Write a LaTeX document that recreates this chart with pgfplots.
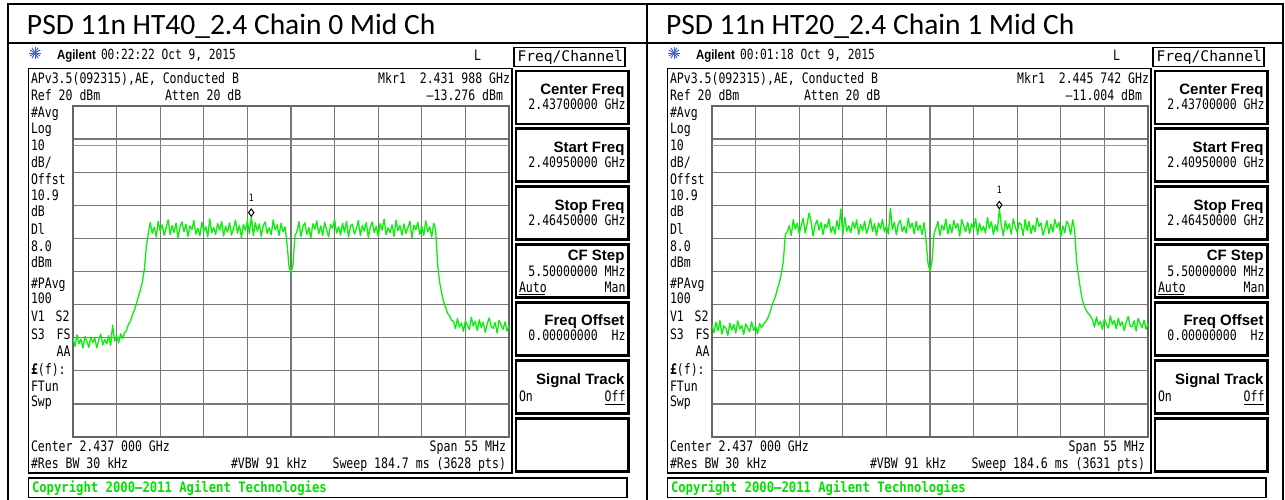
\documentclass[border=0pt]{standalone}
\usepackage{pgfplots}
\pgfplotsset{compat=1.18}
\usepackage{pgfplotstable}
\usepackage{fontspec}
\setmainfont{Carlito}
\newfontfamily\anaF[FakeStretch=0.8]{DejaVu Sans Mono}
\newfontfamily\anaW{DejaVu Sans Mono}
\newfontfamily\cpF[FakeStretch=0.85]{DejaVu Sans Mono}
\newfontfamily\keyF{Liberation Sans}
\newfontfamily\agF[FakeStretch=0.85]{Liberation Sans}
\newcommand\ana{\anaF\fontsize{14.4}{16}\selectfont}
\newcommand\hdr{\anaF\fontsize{14}{16}\selectfont}
\newcommand\kt{\keyF\bfseries\fontsize{15}{17}\selectfont}
\definecolor{trace}{RGB}{10,240,10}
\definecolor{dline}{RGB}{40,225,40}
\definecolor{gridc}{RGB}{120,120,120}
\definecolor{cpg}{RGB}{0,225,0}
\definecolor{logo}{RGB}{60,90,220}

\pgfplotstableread[row sep=\\]{
x y\\
2409.50 -50.2\\ 2409.75 -52.6\\ 2410.00 -49.1\\ 2410.25 -51.8\\ 2410.50 -50.4\\ 2410.75 -53.1\\
2411.00 -49.6\\ 2411.25 -51.2\\ 2411.50 -52.9\\ 2411.75 -49.8\\ 2412.00 -51.5\\ 2412.25 -50.1\\
2412.50 -53.0\\ 2412.75 -50.7\\ 2413.00 -48.9\\ 2413.25 -52.2\\ 2413.50 -50.5\\ 2413.75 -51.9\\
2414.00 -49.4\\ 2414.25 -52.4\\ 2414.50 -46.2\\ 2414.75 -51.0\\ 2415.00 -49.3\\ 2415.25 -51.6\\
2415.50 -48.8\\ 2415.75 -50.3\\ 2416.00 -48.6\\
2416.25 -47.8\\ 2416.50 -45.9\\ 2416.75 -45.0\\ 2417.00 -43.1\\ 2417.25 -41.6\\ 2417.50 -39.8\\
2417.75 -37.5\\ 2418.00 -35.6\\ 2418.25 -33.1\\ 2418.50 -29.4\\ 2418.75 -22.6\\ 2419.00 -18.4\\
2419.25 -15.2\\ 2419.50 -18.5\\ 2419.75 -16.6\\ 2420.00 -19.6\\ 2420.25 -14.8\\ 2420.50 -17.7\\
2420.75 -15.9\\ 2421.00 -19.1\\ 2421.25 -16.8\\ 2421.50 -14.4\\ 2421.75 -18.9\\ 2422.00 -16.1\\
2422.25 -18.2\\ 2422.50 -15.4\\ 2422.75 -19.8\\ 2423.00 -16.5\\ 2423.25 -15.0\\ 2423.50 -18.0\\
2423.75 -15.7\\ 2424.00 -19.4\\ 2424.25 -16.2\\ 2424.50 -17.3\\ 2424.75 -14.6\\ 2425.00 -18.7\\
2425.25 -16.9\\ 2425.50 -19.2\\ 2425.75 -15.1\\ 2426.00 -17.9\\ 2426.25 -16.4\\ 2426.50 -19.5\\
2426.75 -14.1\\ 2427.00 -18.3\\ 2427.25 -16.7\\ 2427.50 -18.8\\ 2427.75 -15.5\\ 2428.00 -17.5\\
2428.25 -14.9\\ 2428.50 -19.3\\ 2428.75 -16.3\\ 2429.00 -18.1\\ 2429.25 -15.3\\ 2429.50 -19.0\\
2429.75 -17.0\\ 2430.00 -14.5\\ 2430.25 -18.4\\ 2430.50 -16.0\\ 2430.75 -19.7\\ 2431.00 -15.8\\
2431.25 -17.6\\ 2431.50 -14.7\\ 2431.75 -18.6\\ 2432.00 -13.3\\ 2432.25 -19.2\\ 2432.50 -15.2\\
2432.75 -17.8\\ 2433.00 -15.6\\ 2433.25 -19.4\\ 2433.50 -16.1\\ 2433.75 -15.0\\ 2434.00 -18.5\\
2434.25 -16.8\\ 2434.50 -18.9\\ 2434.75 -14.4\\ 2435.00 -17.4\\ 2435.25 -15.9\\ 2435.50 -19.1\\
2435.75 -15.4\\ 2436.00 -18.0\\ 2436.25 -16.5\\
2436.50 -21.5\\ 2436.75 -28.6\\ 2437.00 -30.4\\ 2437.25 -27.8\\ 2437.50 -19.2\\
2437.75 -17.9\\ 2438.00 -14.9\\ 2438.25 -19.4\\ 2438.50 -16.4\\ 2438.75 -15.3\\ 2439.00 -18.8\\
2439.25 -16.7\\ 2439.50 -19.9\\ 2439.75 -15.6\\ 2440.00 -17.2\\ 2440.25 -14.7\\ 2440.50 -18.6\\
2440.75 -16.2\\ 2441.00 -19.1\\ 2441.25 -15.1\\ 2441.50 -17.6\\ 2441.75 -19.5\\ 2442.00 -15.8\\
2442.25 -16.9\\ 2442.50 -14.3\\ 2442.75 -18.4\\ 2443.00 -16.5\\ 2443.25 -19.0\\ 2443.50 -15.4\\
2443.75 -18.1\\ 2444.00 -14.8\\ 2444.25 -19.6\\ 2444.50 -16.3\\ 2444.75 -15.7\\ 2445.00 -18.7\\
2445.25 -17.0\\ 2445.50 -14.6\\ 2445.75 -19.2\\ 2446.00 -16.1\\ 2446.25 -17.8\\ 2446.50 -15.2\\
2446.75 -19.7\\ 2447.00 -16.6\\ 2447.25 -15.0\\ 2447.50 -18.3\\ 2447.75 -16.4\\ 2448.00 -19.3\\
2448.25 -15.5\\ 2448.50 -17.5\\ 2448.75 -14.2\\ 2449.00 -18.9\\ 2449.25 -16.8\\ 2449.50 -18.2\\
2449.75 -15.9\\ 2450.00 -19.4\\ 2450.25 -14.5\\ 2450.50 -17.7\\ 2450.75 -16.1\\ 2451.00 -19.0\\
2451.25 -15.6\\ 2451.50 -18.5\\ 2451.75 -16.7\\ 2452.00 -14.8\\ 2452.25 -19.8\\ 2452.50 -16.0\\
2452.75 -17.4\\ 2453.00 -15.1\\ 2453.25 -18.8\\ 2453.50 -16.3\\ 2453.75 -19.1\\ 2454.00 -14.7\\
2454.25 -18.0\\ 2454.50 -16.5\\ 2454.75 -19.6\\ 2455.00 -15.4\\ 2455.25 -17.3\\
2455.50 -28.0\\ 2455.75 -33.2\\ 2456.00 -36.4\\ 2456.25 -39.1\\ 2456.50 -40.8\\ 2456.75 -42.6\\
2457.00 -43.4\\ 2457.25 -44.7\\
2457.50 -45.1\\ 2457.75 -47.3\\ 2458.00 -44.2\\ 2458.25 -46.8\\ 2458.50 -45.5\\ 2458.75 -48.1\\
2459.00 -44.9\\ 2459.25 -46.2\\ 2459.50 -47.6\\ 2459.75 -43.8\\ 2460.00 -46.5\\ 2460.25 -45.0\\
2460.50 -47.9\\ 2460.75 -44.6\\ 2461.00 -46.9\\ 2461.25 -45.3\\ 2461.50 -48.4\\ 2461.75 -45.8\\
2462.00 -44.0\\ 2462.25 -46.7\\ 2462.50 -47.2\\ 2462.75 -45.4\\ 2463.00 -48.6\\ 2463.25 -44.7\\
2463.50 -46.1\\ 2463.75 -47.5\\ 2464.00 -45.2\\ 2464.25 -48.0\\ 2464.50 -46.4\\
}\trL

\pgfplotstableread[row sep=\\]{
x y\\
2409.50 -46.1\\ 2409.75 -48.5\\ 2410.00 -45.3\\ 2410.25 -47.9\\ 2410.50 -44.8\\ 2410.75 -48.9\\
2411.00 -46.4\\ 2411.25 -47.2\\ 2411.50 -49.3\\ 2411.75 -45.6\\ 2412.00 -47.7\\ 2412.25 -46.0\\
2412.50 -48.6\\ 2412.75 -44.9\\ 2413.00 -47.4\\ 2413.25 -46.3\\ 2413.50 -49.0\\ 2413.75 -45.8\\
2414.00 -47.1\\ 2414.25 -48.2\\ 2414.50 -45.2\\ 2414.75 -47.8\\ 2415.00 -46.5\\ 2415.25 -48.8\\
2415.50 -45.7\\ 2415.75 -47.0\\ 2416.00 -45.9\\
2416.25 -45.2\\ 2416.50 -44.3\\ 2416.75 -42.8\\ 2417.00 -40.9\\ 2417.25 -39.0\\ 2417.50 -37.6\\
2417.75 -35.2\\ 2418.00 -33.4\\ 2418.25 -30.6\\ 2418.50 -26.9\\ 2418.75 -18.8\\
2419.00 -18.0\\ 2419.25 -16.1\\ 2419.50 -19.1\\ 2419.75 -14.3\\ 2420.00 -17.2\\ 2420.25 -15.4\\
2420.50 -18.6\\ 2420.75 -16.3\\ 2421.00 -13.9\\ 2421.25 -18.4\\ 2421.50 -15.6\\ 2421.75 -12.3\\
2422.00 -14.9\\ 2422.25 -19.3\\ 2422.50 -16.0\\ 2422.75 -14.5\\ 2423.00 -17.5\\ 2423.25 -15.2\\
2423.50 -18.9\\ 2423.75 -15.7\\ 2424.00 -16.8\\ 2424.25 -14.1\\ 2424.50 -18.2\\ 2424.75 -16.4\\
2425.00 -18.7\\ 2425.25 -14.6\\ 2425.50 -17.4\\ 2425.75 -11.1\\ 2426.00 -19.0\\ 2426.25 -13.6\\
2426.50 -17.8\\ 2426.75 -16.2\\ 2427.00 -18.3\\ 2427.25 -15.0\\ 2427.50 -17.0\\ 2427.75 -14.4\\
2428.00 -18.8\\ 2428.25 -15.8\\ 2428.50 -17.6\\ 2428.75 -14.8\\ 2429.00 -18.5\\ 2429.25 -16.5\\
2429.50 -14.0\\ 2429.75 -17.9\\ 2430.00 -15.5\\ 2430.25 -19.2\\ 2430.50 -15.3\\ 2430.75 -17.1\\
2431.00 -14.2\\ 2431.25 -18.1\\ 2431.50 -16.1\\ 2431.75 -18.7\\ 2432.00 -10.9\\ 2432.25 -17.3\\
2432.50 -15.1\\ 2432.75 -18.9\\ 2433.00 -15.6\\ 2433.25 -14.5\\ 2433.50 -18.0\\ 2433.75 -16.3\\
2434.00 -18.4\\ 2434.25 -13.9\\ 2434.50 -16.9\\ 2434.75 -15.4\\ 2435.00 -18.6\\ 2435.25 -14.9\\
2435.50 -17.5\\ 2435.75 -16.0\\ 2436.00 -18.8\\ 2436.25 -15.2\\
2436.50 -20.5\\ 2436.75 -27.6\\ 2437.00 -29.8\\ 2437.25 -26.9\\ 2437.50 -18.7\\
2437.75 -16.8\\ 2438.00 -14.9\\ 2438.25 -19.1\\ 2438.50 -16.0\\ 2438.75 -17.5\\ 2439.00 -14.2\\
2439.25 -18.6\\ 2439.50 -15.8\\ 2439.75 -18.3\\ 2440.00 -14.6\\ 2440.25 -16.9\\ 2440.50 -15.5\\
2440.75 -19.3\\ 2441.00 -14.3\\ 2441.25 -16.2\\ 2441.50 -18.0\\ 2441.75 -15.1\\ 2442.00 -18.5\\
2442.25 -15.6\\ 2442.50 -17.2\\ 2442.75 -14.0\\ 2443.00 -18.9\\ 2443.25 -15.4\\ 2443.50 -17.7\\
2443.75 -16.3\\ 2444.00 -18.4\\ 2444.25 -13.7\\ 2444.50 -17.0\\ 2444.75 -15.0\\ 2445.00 -18.8\\
2445.25 -15.9\\ 2445.50 -17.8\\ 2445.75 -11.0\\ 2446.00 -16.1\\ 2446.25 -19.2\\ 2446.50 -14.7\\
2446.75 -17.3\\ 2447.00 -15.6\\ 2447.25 -18.7\\ 2447.50 -14.1\\ 2447.75 -16.5\\ 2448.00 -18.2\\
2448.25 -15.2\\ 2448.50 -15.8\\ 2448.75 -19.1\\ 2449.00 -14.3\\ 2449.25 -17.6\\ 2449.50 -14.9\\
2449.75 -18.5\\ 2450.00 -16.0\\ 2450.25 -17.9\\ 2450.50 -13.8\\ 2450.75 -16.4\\ 2451.00 -15.3\\
2451.25 -19.0\\ 2451.50 -17.1\\ 2451.75 -14.6\\ 2452.00 -18.6\\ 2452.25 -15.7\\ 2452.50 -18.1\\
2452.75 -14.2\\ 2453.00 -16.7\\ 2453.25 -15.1\\ 2453.50 -19.4\\ 2453.75 -16.2\\ 2454.00 -18.3\\
2454.25 -14.8\\ 2454.50 -15.9\\ 2454.75 -18.9\\ 2455.00 -14.4\\ 2455.25 -17.4\\
2455.50 -27.2\\ 2455.75 -31.5\\ 2456.00 -35.8\\ 2456.25 -38.9\\ 2456.50 -40.7\\ 2456.75 -41.9\\
2457.00 -42.8\\ 2457.25 -43.5\\
2457.50 -44.6\\ 2457.75 -46.8\\ 2458.00 -43.7\\ 2458.25 -46.2\\ 2458.50 -45.0\\ 2458.75 -47.5\\
2459.00 -44.3\\ 2459.25 -45.9\\ 2459.50 -47.1\\ 2459.75 -43.4\\ 2460.00 -46.0\\ 2460.25 -44.8\\
2460.50 -47.3\\ 2460.75 -44.1\\ 2461.00 -46.4\\ 2461.25 -45.2\\ 2461.50 -47.9\\ 2461.75 -45.3\\
2462.00 -43.6\\ 2462.25 -46.5\\ 2462.50 -46.7\\ 2462.75 -44.9\\ 2463.00 -48.0\\ 2463.25 -44.2\\
2463.50 -45.6\\ 2463.75 -47.0\\ 2464.00 -44.7\\ 2464.25 -47.4\\ 2464.50 -45.9\\
}\trR

\pgfplotsset{anaax/.style={anchor=south west, width=436pt, height=331pt, scale only axis,
  xmin=2409.5, xmax=2464.5, ymin=-80, ymax=20,
  xtick={2409.5,2415,2420.5,2426,2431.5,2437,2442.5,2448,2453.5,2459,2464.5},
  ytick={-80,-70,-60,-50,-40,-30,-20,-10,0,10,20},
  xticklabels={,,}, yticklabels={,,}, major tick length=0pt,
  grid=major, major grid style={gridc,line width=1.3pt},
  axis line style={gridc!85!black,line width=1.5pt}, clip=true}}

\newcommand\key[3]{%
  \draw[line width=2.6] (516,#1) rectangle (628.3,{#1+53});
  \node[anchor=base east,font=\kt] at (624.5,{#1+23.5}) {#2};
  \node[anchor=base east,font=\ana] at (625.5,{#1+38.5}) {#3};}

\newcommand\panel[5]{%
  \node[anchor=base west,font=\fontsize{29.5}{31}\selectfont] at (27,34) {#5};
  \foreach \a in {0,30,...,330}{\draw[logo,line width=0.9] (35,53) -- ++(\a:6);}
  \node[anchor=base west,font=\agF\bfseries\fontsize{13.5}{15}\selectfont] at (57,59) {Agilent};
  \node[anchor=base west,font=\hdr] at (101,59) {#1};
  \node[anchor=base west,font=\ana] at (474,60) {L};
  \draw[line width=1.8] (514,47.5) rectangle (625,66.5);
  \node[anchor=base east,font=\anaW\fontsize{14.6}{16}\selectfont] at (623,61) {Freq/Channel};
  \draw[line width=1.6] (28.5,68.5) rectangle (512,473);
  \node[anchor=base west,font=\ana] at (31,83.3) {APv3.5(092315),AE, Conducted B};
  \node[anchor=base west,font=\ana] at (31,100) {Ref 20 dBm};
  \node[anchor=base west,font=\ana] at (165,100) {Atten 20 dB};
  \node[anchor=base east,font=\ana] at (510,83.3) {Mkr1\ \ #2 GHz};
  \node[anchor=base east,font=\ana] at (503,100) {#3 dBm};
  \node[anchor=base west,font=\ana] at (31,117) {\#Avg};
  \node[anchor=base west,font=\ana] at (31,133) {Log};
  \node[anchor=base west,font=\ana] at (31,150) {10};
  \node[anchor=base west,font=\ana] at (31,167) {dB/};
  \node[anchor=base west,font=\ana] at (31,184.5) {Offst};
  \node[anchor=base west,font=\ana] at (31,200) {10.9};
  \node[anchor=base west,font=\ana] at (31,216.5) {dB};
  \node[anchor=base west,font=\ana] at (31,234) {Dl};
  \node[anchor=base west,font=\ana] at (31,251) {8.0};
  \node[anchor=base west,font=\ana] at (31,267) {dBm};
  \node[anchor=base west,font=\ana] at (31,288) {\#PAvg};
  \node[anchor=base west,font=\ana] at (31,303.5) {100};
  \node[anchor=base west,font=\ana] at (31,321.5) {V1};
  \node[anchor=base east,font=\ana] at (69.5,321.5) {S2};
  \node[anchor=base west,font=\ana] at (31,339) {S3};
  \node[anchor=base east,font=\ana] at (70.5,339) {FS};
  \node[anchor=base east,font=\ana] at (70.5,356.5) {AA};
  \node[anchor=base west,font=\ana] at (31,374) {{\bfseries £}(f):};
  \node[anchor=base west,font=\ana] at (31,391.5) {FTun};
  \node[anchor=base west,font=\ana] at (31,406.5) {Swp};
  \node[anchor=base west,font=\ana] at (31,451.7) {Center 2.437 000 GHz};
  \node[anchor=base west,font=\ana] at (31,468.3) {\#Res BW 30 kHz};
  \node[anchor=base west,font=\ana] at (231,468.3) {\#VBW 91 kHz};
  \node[anchor=base east,font=\ana] at (506,451.7) {Span 55 MHz};
  \node[anchor=base east,font=\ana] at (506,468.3) {#4};
  \key{70.8}{Center Freq}{2.43700000 GHz}
  \key{128.7}{Start Freq}{2.40950000 GHz}
  \key{186.6}{Stop Freq}{2.46450000 GHz}
  \draw[line width=2.6] (516,244.5) rectangle (628.3,297.5);
  \node[anchor=base east,font=\kt] at (624.5,260.7) {CF Step};
  \node[anchor=base east,font=\ana] at (625.5,276) {5.50000000 MHz};
  \node[anchor=base west,font=\ana] at (519,292.5) {Auto};
  \draw[line width=0.9] (519,294.5) -- (545,294.5);
  \node[anchor=base east,font=\ana] at (625.5,292.5) {Man};
  \key{302.4}{Freq Offset}{0.00000000\ \ Hz}
  \draw[line width=2.6] (516,360.3) rectangle (628.3,413.3);
  \node[anchor=base east,font=\kt] at (624.5,384.5) {Signal Track};
  \node[anchor=base west,font=\ana] at (519,401.5) {On};
  \node[anchor=base east,font=\ana] at (625.5,401.5) {Off};
  \draw[line width=0.9] (605,404) -- (625,404);
  \draw[line width=2.6] (516,418.2) rectangle (628.3,471.5);
  \draw[line width=1.6] (28.5,478) rectangle (627,497.5);
  \node[anchor=base west,font=\cpF\bfseries\fontsize{14.4}{16}\selectfont,text=cpg] at (32,492.5) {Copyright 2000–2011 Agilent Technologies};
}

\begin{document}
\begin{tikzpicture}[x=1pt,y=1pt,every node/.style={inner sep=0pt,outer sep=0pt}]
\fill[white] (0,0) rectangle (1285,-499);
\path[use as bounding box] (0,0) rectangle (1285,-499);
\begin{scope}[yscale=-1]
  \draw[line width=1.6] (8,505) -- (8,4) -- (1283,4) -- (1283,505);
  \draw[line width=1.6] (647,4) -- (647,505);
  \draw[line width=1.3] (8,43) -- (1283,43);
  \fill[white] (22,44.5) rectangle (632,505);
  \fill[white] (661,44.5) rectangle (1271,505);
  \panel{00:22:22 Oct 9, 2015}{2.431 988}{–13.276}{Sweep 184.7 ms (3628 pts)}{PSD 11n HT40\_2.4 Chain 0 Mid Ch}
  \begin{scope}[xshift=639pt]
  \panel{00:01:18 Oct 9, 2015}{2.445 742}{–11.004}{Sweep 184.6 ms (3631 pts)}{PSD 11n HT20\_2.4 Chain 1 Mid Ch}
  \end{scope}
\end{scope}

\begin{axis}[anaax, at={(73pt,-437pt)}]
  \addplot[dline, line width=0.9pt] coordinates {(2409.5,8) (2464.5,8)};
  \addplot[trace, line width=1.3pt, line join=round] table {\trL};
  \addplot[only marks, mark=diamond, mark size=3.6pt,
    mark options={draw=black, fill=white, line width=1pt, yshift=3.6pt},
    nodes near coords={1},
    every node near coord/.append style={font=\anaF\fontsize{10}{11}\selectfont, text=black, anchor=base, yshift=11.5pt}]
    coordinates {(2431.988,-13.276)};
\end{axis}

\begin{axis}[anaax, at={(712pt,-437pt)}]
  \addplot[dline, line width=0.9pt] coordinates {(2409.5,8) (2464.5,8)};
  \addplot[trace, line width=1.3pt, line join=round] table {\trR};
  \addplot[only marks, mark=diamond, mark size=3.6pt,
    mark options={draw=black, fill=white, line width=1pt, yshift=3.6pt},
    nodes near coords={1},
    every node near coord/.append style={font=\anaF\fontsize{10}{11}\selectfont, text=black, anchor=base, yshift=11.5pt}]
    coordinates {(2445.742,-11.004)};
\end{axis}
\end{tikzpicture}
\end{document}
